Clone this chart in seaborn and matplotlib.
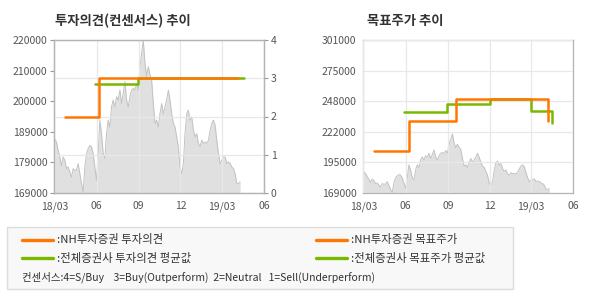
import matplotlib
matplotlib.use("Agg")
import matplotlib.pyplot as plt
from matplotlib.lines import Line2D
from matplotlib.patches import Rectangle
import pandas as pd
import seaborn as sns

sns.set_theme(style="white")
plt.rcParams["font.family"] = ["Noto Sans CJK KR", "DejaVu Sans"]

# ---------------- data ----------------
price_values = [
    187000, 186000, 183300, 181000, 178200, 181000, 179900, 177100, 177700, 176000,
    174300, 177100, 176600, 176600, 178800, 175500, 172100, 169300, 177700, 182100,
    183800, 184900, 184400, 182100, 177700, 173200, 182000, 193300, 188800, 182100,
    180500, 188800, 193300, 191000, 197700, 200000, 197700, 201100, 200000, 203300,
    198800, 202200, 206100, 200000, 197700, 201100, 203300, 203900, 203300, 205500,
    203300, 211100, 215500, 220000, 212200, 208000, 211100, 208500, 206600, 199000,
    192200, 193300, 191000, 195500, 198800, 195500, 197700, 200000, 203300, 200000,
    195500, 192200, 191000, 187700, 184400, 177700, 175500, 178800, 188800, 195500,
    196600, 193300, 194400, 189900, 187700, 188800, 185500, 184400, 186600, 185500,
    186000, 185500, 186600, 189900, 192200, 193300, 191600, 186600, 182100, 178800,
    179900, 181000, 181000, 178800, 179400, 178800, 177700, 177100, 175500, 172100,
    172100, 172700,
]
price_start = "2018-03-02"
price_end = "2019-04-10"

nh_op_dates = ["2018-03-24", "2018-06-07", "2019-04-06"]
nh_op_values = [2, 3, 3]
avg_op_dates = ["2018-05-29", "2018-08-30", "2019-04-18"]
avg_op_values = [2.86, 3, 3]

nh_tp_dates = ["2018-03-24", "2018-06-09", "2018-09-19", "2019-04-07"]
nh_tp_values = [205000, 231000, 250000, 231000]
avg_tp_dates = ["2018-05-28", "2018-08-30", "2018-12-01", "2019-02-28", "2019-04-16"]
avg_tp_values = [238700, 245600, 250000, 239600, 229300]

x_tick_dates = ["2018-03-01", "2018-06-01", "2018-09-01", "2018-12-01", "2019-03-01", "2019-06-01"]
x_tick_labels = ["18/03", "06", "09", "12", "19/03", "06"]

left_price_ticks = [169000, 179200, 189400, 199600, 209800, 220000]
left_price_labels = ["169000", "179000", "189000", "200000", "210000", "220000"]
opinion_ticks = [0, 1, 2, 3, 4]
right_price_ticks = [169000, 195400, 221800, 248200, 274600, 301000]
right_price_labels = ["169000", "195000", "222000", "248000", "275000", "301000"]

title_left = "투자의견(컨센서스) 추이"
title_right = "목표주가 추이"
legend_labels = [":NH투자증권 투자의견", ":전체증권사 투자의견 평균값",
                 ":NH투자증권 목표주가", ":전체증권사 목표주가 평균값"]
consensus_note = "컨센서스:4=S/Buy    3=Buy(Outperform)  2=Neutral   1=Sell(Underperform)"

# ---------------- styling ----------------
ORANGE = "#ff7700"
GREEN = "#7ab800"
FILL = "#e0e0e0"
PLINE = "#c2c2c2"
GRID = "#e8e8e8"
SPINE = "#b4b4b4"
TICKC = "#555555"
FS = 7.5

price_df = pd.DataFrame({
    "date": pd.date_range(price_start, price_end, periods=len(price_values)),
    "price": price_values,
})
nh_op = pd.DataFrame({"date": pd.to_datetime(nh_op_dates), "v": nh_op_values})
avg_op = pd.DataFrame({"date": pd.to_datetime(avg_op_dates), "v": avg_op_values})
nh_tp = pd.DataFrame({"date": pd.to_datetime(nh_tp_dates), "v": nh_tp_values})
avg_tp = pd.DataFrame({"date": pd.to_datetime(avg_tp_dates), "v": avg_tp_values})
xticks = pd.to_datetime(x_tick_dates)

W, H = 590, 300
fig = plt.figure(figsize=(W / 100, H / 100), dpi=100)
fig.patch.set_facecolor("white")

ax_l = fig.add_axes([54.3 / W, 1 - 193 / H, 209.7 / W, 153 / H])
ax_lo = ax_l.twinx()
ax_r = fig.add_axes([363.3 / W, 1 - 193 / H, 210 / W, 153 / H])


def style_axes(ax):
    for s in ax.spines.values():
        s.set_color(SPINE)
        s.set_linewidth(0.9)
    ax.tick_params(axis="both", colors="#999999", labelcolor=TICKC,
                   labelsize=FS, length=3, width=0.8, pad=2)
    ax.tick_params(axis="x", pad=3)


def draw_price(ax, ymin, ymax):
    ax.fill_between(price_df["date"], price_df["price"], ymin, color=FILL, lw=0, zorder=1)
    sns.lineplot(data=price_df, x="date", y="price", ax=ax, color=PLINE, lw=0.7, zorder=1.2)
    ax.set_ylim(ymin, ymax)
    ax.set_xlim(xticks[0], xticks[-1])
    ax.set_xticks(xticks)
    ax.set_xticklabels(x_tick_labels)
    ax.set_xlabel("")
    ax.set_ylabel("")


# ---- left chart ----
draw_price(ax_l, 169000, 220000)
ax_l.set_yticks(left_price_ticks)
ax_l.set_yticklabels(left_price_labels)
ax_l.set_axisbelow(False)
ax_l.grid(axis="x", color=GRID, lw=0.9, zorder=1.5)
ax_l.grid(axis="y", visible=False)
style_axes(ax_l)

sns.lineplot(data=avg_op, x="date", y="v", ax=ax_lo, color=GREEN, lw=1.8,
             drawstyle="steps-post", zorder=3)
sns.lineplot(data=nh_op, x="date", y="v", ax=ax_lo, color=ORANGE, lw=1.8,
             drawstyle="steps-post", zorder=4)
ax_lo.set_ylim(0, 4)
ax_lo.set_yticks(opinion_ticks)
ax_lo.set_yticklabels([str(t) for t in opinion_ticks])
ax_lo.set_ylabel("")
ax_lo.grid(axis="y", color=GRID, lw=0.9)
ax_lo.set_axisbelow(True)
style_axes(ax_lo)
ax_lo.set_xlim(xticks[0], xticks[-1])

# ---- right chart ----
draw_price(ax_r, 169000, 301000)
ax_r.set_yticks(right_price_ticks)
ax_r.set_yticklabels(right_price_labels)
ax_r.set_axisbelow(False)
ax_r.grid(True, color=GRID, lw=0.9, zorder=1.5)
sns.lineplot(data=avg_tp, x="date", y="v", ax=ax_r, color=GREEN, lw=1.8,
             drawstyle="steps-post", zorder=3)
sns.lineplot(data=nh_tp, x="date", y="v", ax=ax_r, color=ORANGE, lw=1.8,
             drawstyle="steps-post", zorder=4)
ax_r.set_ylabel("")
ax_r.set_xlabel("")
style_axes(ax_r)

# ---- titles ----
fig.text(55 / W, 1 - 21 / H, title_left, ha="left", va="center",
         fontsize=9.6, fontweight="bold", color="#333333")
fig.text(367 / W, 1 - 21 / H, title_right, ha="left", va="center",
         fontsize=9.6, fontweight="bold", color="#333333")

# ---- legend box ----
fig.add_artist(Rectangle((7 / W, 1 - 289 / H), 506 / W, 62 / H, transform=fig.transFigure,
                         facecolor="#f8f8f8", edgecolor="#dcdcdc", lw=1, zorder=0))

h_nh = Line2D([], [], color=ORANGE, lw=2.4)
h_avg = Line2D([], [], color=GREEN, lw=2.4)
leg_kw = dict(frameon=False, fontsize=8.2, handlelength=2.7, handletextpad=0.35,
              borderpad=0, borderaxespad=0, labelspacing=0.62, loc="upper left",
              labelcolor="#333333")
leg1 = fig.legend([h_nh, h_avg], legend_labels[:2],
                  bbox_to_anchor=(22 / W, 1 - 234.5 / H), **leg_kw)
leg2 = fig.legend([h_nh, h_avg], legend_labels[2:],
                  bbox_to_anchor=(316 / W, 1 - 234.5 / H), **leg_kw)
fig.text(22 / W, 1 - 277 / H, consensus_note, ha="left", va="center",
         fontsize=FS, color="#333333")

fig.savefig("out.png", dpi=100, facecolor="white")
